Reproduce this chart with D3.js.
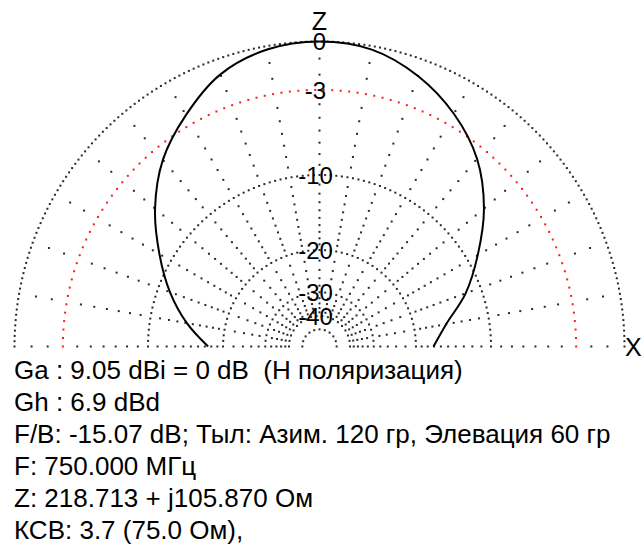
<!DOCTYPE html>
<html>
<head>
<meta charset="utf-8">
<script src="https://cdn.jsdelivr.net/npm/d3@7"></script>
<style>
  html, body { margin: 0; padding: 0; background: #fff; }
  svg { display: block; }
  text { font-family: "Liberation Sans", Arial, sans-serif; fill: #000; }
</style>
</head>
<body>
<svg id="chart" width="642" height="544"></svg>
<script>
// ---- data ----
const elevations = [0, 10, 20, 30, 40, 50, 60, 70, 80, 90, 100, 110, 120, 130, 140, 150, 160, 170, 180];
const gainDb     = [-17.1, -15.0, -11.7, -8.9, -6.1, -3.8, -2.2, -1.0, -0.2, 0, -0.2, -0.9, -2.3, -3.9, -6.1, -8.7, -11.3, -14.2, -17.5];
const gridLevels = [0, -10, -20, -30, -40, -50];
const halfPowerLevel = -3;
const tickValues = [0, -3, -10, -20, -30, -40];
const tickLabels = ["0", "-3", "-10", "-20", "-30", "-40"];
const spokeAngles = [0, 10, 20, 30, 40, 50, 60, 70, 80, 90, 100, 110, 120, 130, 140, 150, 160, 170, 180];
const infoLines = [
  "Ga : 9.05 dBi = 0 dB  (H поляризация)",
  "Gh : 6.9 dBd",
  "F/B: -15.07 dB; Тыл: Азим. 120 гр, Элевация 60 гр",
  "F: 750.000 МГц",
  "Z: 218.713 + j105.870 Ом",
  "КСВ: 3.7 (75.0 Ом),"
];

// ---- layout ----
const cx = 319.5, cy = 346.5, R = 305;
const svg = d3.select("#chart");
const g = svg.append("g").attr("transform", `translate(${cx},${cy})`);

// radius: r = R * (power ratio)^(1/4)  (i.e. 40 dB per decade of radius)
const rScale = d3.scalePow().exponent(0.25).domain([0, 1]).range([0, R]);
const dbToR = db => rScale(Math.pow(10, db / 10));
// angle: elevation 0 -> right horizon, 180 -> left horizon (lineRadial: 0 = up, clockwise)
const aScale = d3.scaleLinear().domain([0, 180]).range([Math.PI / 2, -Math.PI / 2]);
const px = (el, r) => r * Math.sin(aScale(el));
const py = (el, r) => -r * Math.cos(aScale(el));

const dotLayer = g.append("g");
function dotsOnArc(r, spacing, color) {
  const n = Math.max(2, Math.round(Math.PI * r / spacing));
  const pts = d3.range(n + 1).map(i => 180 * i / n);
  dotLayer.selectAll(null).data(pts).enter().append("rect")
    .attr("x", d => px(d, r) - 1).attr("y", d => py(d, r) - 1)
    .attr("width", 2).attr("height", 2)
    .attr("fill", color);
}

// spokes: dots at each dB step
const spokeDb = [];
for (let d = -1; d >= -20; d--) spokeDb.push(d);
for (let d = -22; d >= -38; d -= 2) spokeDb.push(d);
spokeAngles.forEach(el => {
  dotLayer.selectAll(null).data(spokeDb.filter(d => d !== -3 && d !== -10 && d !== -20 && d !== -30))
    .enter().append("rect")
    .attr("x", d => px(el, dbToR(d)) - 1).attr("y", d => py(el, dbToR(d)) - 1)
    .attr("width", 2).attr("height", 2).attr("fill", "#2a2a2a");
});

// circles
gridLevels.forEach(l => dotsOnArc(dbToR(l), l === 0 ? 5.3 : 5.6, "#2a2a2a"));
dotsOnArc(dbToR(halfPowerLevel), 8.5, "#ff1a1a");

// pattern
const data = elevations.map((e, i) => ({ el: e, db: gainDb[i] }));
const line = d3.lineRadial()
  .angle(d => aScale(d.el))
  .radius(d => dbToR(d.db))
  .curve(d3.curveCatmullRom);
g.append("path").attr("d", line(data))
  .attr("fill", "none").attr("stroke", "#000").attr("stroke-width", 2);

// level labels
g.selectAll(null).data(tickValues).enter().append("text")
  .attr("x", (d, i) => tickLabels[i].startsWith("-") ? -4 : 0)
  .attr("y", d => -dbToR(d))
  .attr("dy", "0.36em")
  .attr("text-anchor", "middle")
  .style("font-size", "24px")
  .text((d, i) => tickLabels[i]);

// axis names
svg.append("text").attr("x", cx).attr("y", 30).attr("text-anchor", "middle")
  .style("font-size", "25px").text("Z");
svg.append("text").attr("x", 625).attr("y", 356)
  .style("font-size", "25px").text("X");

// info text
svg.selectAll(".info").data(infoLines).enter().append("text")
  .attr("class", "info")
  .attr("x", 14)
  .attr("y", (d, i) => 379 + i * 32)
  .style("font-size", "26px")
  .style("white-space", "pre")
  .attr("xml:space", "preserve")
  .text(d => d);
</script>
</body>
</html>
